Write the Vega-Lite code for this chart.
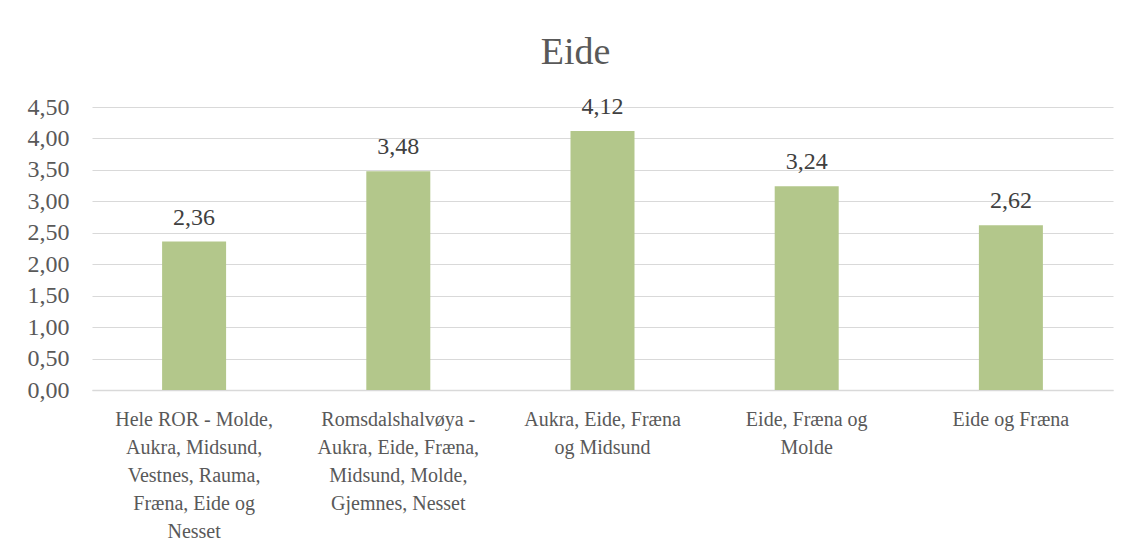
{
  "$schema": "https://vega.github.io/schema/vega-lite/v6.json",
  "autosize": "none",
  "width": 1021,
  "height": 283,
  "padding": {"left": 92, "top": 107, "right": 18, "bottom": 166},
  "background": "white",
  "title": {"text": "Eide", "fontSize": 38, "font": "Liberation Serif", "fontWeight": "normal", "color": "#595959", "anchor": "middle", "frame": "group", "baseline": "alphabetic", "offset": -7, "dx": -27},
  "config": {
    "view": {"stroke": null},
    "font": "Liberation Serif",
    "locale": {"number": {"decimal": ",", "thousands": " ", "grouping": [3], "currency": ["", ""]}}
  },
  "data": {"values": [
    {"region": "Hele ROR - Molde,\nAukra, Midsund,\nVestnes, Rauma,\nFræna, Eide og\nNesset", "value": 2.36},
    {"region": "Romsdalshalvøya -\nAukra, Eide, Fræna,\nMidsund, Molde,\nGjemnes, Nesset", "value": 3.48},
    {"region": "Aukra, Eide, Fræna\nog Midsund", "value": 4.12},
    {"region": "Eide, Fræna og\nMolde", "value": 3.24},
    {"region": "Eide og Fræna", "value": 2.62}
  ]},
  "encoding": {
    "x": {"field": "region", "type": "nominal", "sort": null,
      "scale": {"paddingInner": 0.6866, "paddingOuter": 0.3433},
      "axis": {"title": null, "labelAngle": 0, "labelExpr": "split(datum.label, '\\n')", "labelFont": "Liberation Serif", "labelFontSize": 20, "labelColor": "#595959", "labelLineHeight": 28, "labelPadding": 19, "labelBaseline": "top", "ticks": false, "domainColor": "#d9d9d9", "domainWidth": 1.5, "labelLimit": 400}},
    "y": {"field": "value", "type": "quantitative",
      "scale": {"domain": [0, 4.5]},
      "axis": {"title": null, "values": [0, 0.5, 1, 1.5, 2, 2.5, 3, 3.5, 4, 4.5], "format": ".2f", "labelFont": "Liberation Serif", "labelFontSize": 24, "labelColor": "#595959", "labelPadding": 23, "ticks": false, "domain": false, "gridColor": "#d9d9d9", "gridWidth": 1.2}}
  },
  "layer": [
    {"mark": {"type": "bar", "color": "#b3c78b"}},
    {"mark": {"type": "text", "baseline": "alphabetic", "dy": -17, "fontSize": 24, "color": "#404040", "font": "Liberation Serif"},
     "encoding": {"text": {"field": "value", "type": "quantitative", "format": ".2f"}}}
  ]
}
